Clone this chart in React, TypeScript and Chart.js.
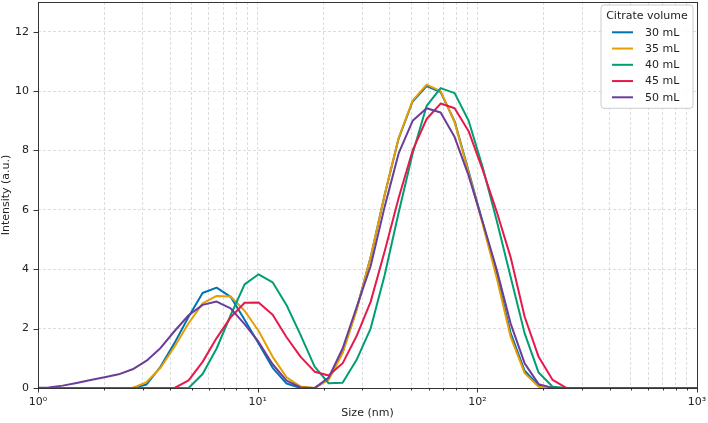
import React, { useEffect, useRef } from 'react';
import { Chart, registerables } from 'chart.js';

Chart.register(...registerables);

// Size classes (nm)
const SIZES = [
  0.8332, 0.9649, 1.117, 1.295, 1.499, 1.736, 2.01, 2.328, 2.696, 3.122,
  3.615, 4.187, 4.849, 5.615, 6.503, 7.531, 8.721, 10.1, 11.7, 13.54,
  15.69, 18.17, 21.04, 24.36, 28.21, 32.67, 37.84, 43.82, 50.75, 58.77,
  68.06, 78.82, 91.28, 105.7, 122.4, 141.8, 164.2, 190.1, 220.2, 255.0,
  295.3, 342.0, 396.1, 458.7, 531.2, 615.1, 712.4, 825.0, 955.4, 1106,
];

const VOL_30 = [
  0, 0, 0, 0, 0, 0, 0, 0, 0, 0.12,
  0.72, 1.52, 2.4, 3.2, 3.38, 3.07, 2.3, 1.5, 0.68, 0.15,
  0, 0, 0.3, 1.2, 2.65, 4.4, 6.5, 8.4, 9.65, 10.17,
  9.97, 8.98, 7.3, 5.58, 3.82, 1.85, 0.58, 0.08, 0, 0,
  0, 0, 0, 0, 0, 0, 0, 0, 0, 0,
];
const VOL_35 = [
  0, 0, 0, 0, 0, 0, 0, 0, 0, 0.2,
  0.68, 1.4, 2.18, 2.85, 3.1, 3.08, 2.6, 1.92, 1.05, 0.36,
  0.05, 0, 0.28, 1.18, 2.62, 4.4, 6.5, 8.42, 9.68, 10.22,
  10.0, 8.95, 7.25, 5.52, 3.72, 1.72, 0.5, 0.04, 0, 0,
  0, 0, 0, 0, 0, 0, 0, 0, 0, 0,
];
const VOL_40 = [
  0, 0, 0, 0, 0, 0, 0, 0, 0, 0,
  0, 0, 0, 0.47, 1.33, 2.45, 3.49, 3.83, 3.56, 2.79,
  1.78, 0.72, 0.16, 0.18, 0.95, 2.0, 3.8, 5.9, 7.9, 9.5,
  10.1, 9.93, 9.0, 7.44, 5.65, 3.74, 1.84, 0.52, 0.04, 0,
  0, 0, 0, 0, 0, 0, 0, 0, 0, 0,
];
const VOL_45 = [
  0, 0, 0, 0, 0, 0, 0, 0, 0, 0,
  0, 0, 0.26, 0.88, 1.68, 2.38, 2.87, 2.88, 2.47, 1.71,
  1.05, 0.55, 0.42, 0.83, 1.75, 2.9, 4.6, 6.4, 8.0, 9.06,
  9.58, 9.42, 8.65, 7.35, 5.95, 4.4, 2.4, 1.05, 0.27, 0,
  0, 0, 0, 0, 0, 0, 0, 0, 0, 0,
];
const VOL_50 = [
  0, 0, 0.02, 0.08, 0.17, 0.27, 0.36, 0.46, 0.63, 0.92,
  1.35, 1.92, 2.45, 2.8, 2.91, 2.68, 2.15, 1.55, 0.8, 0.25,
  0.02, 0, 0.35, 1.33, 2.72, 4.1, 6.1, 7.9, 9.0, 9.42,
  9.28, 8.45, 7.15, 5.6, 4.0, 2.17, 0.83, 0.13, 0, 0,
  0, 0, 0, 0, 0, 0, 0, 0, 0, 0,
];

const SERIES = [VOL_30, VOL_35, VOL_40, VOL_45, VOL_50];
const SERIES_LABELS = ['30 mL', '35 mL', '40 mL', '45 mL', '50 mL'];
const SERIES_COLORS = ['#0072B2', '#E69F00', '#009E73', '#E6194B', '#6A3D9A'];

const X_MAJOR_TICKS = [1, 10, 100, 1000];
const X_MAJOR_LABELS = ['10⁰', '10¹', '10²', '10³'];
const X_MINOR_TICKS = [
  2, 3, 4, 5, 6, 7, 8, 9,
  20, 30, 40, 50, 60, 70, 80, 90,
  200, 300, 400, 500, 600, 700, 800, 900,
];
const Y_TICKS = [0, 2, 4, 6, 8, 10, 12];

const FONT_FAMILY = '"DejaVu Sans", sans-serif';
const FONT_SIZE = 11;
const TEXT_COLOR = '#222222';
const GRID_COLOR = '#d4d4d4';

function isMajor(v: number) {
  return X_MAJOR_TICKS.some((m) => Math.abs(m - v) < 1e-6 * m);
}

const framePlugin = {
  id: 'mplFrame',
  afterDraw(chart: any) {
    const { ctx, chartArea: a, scales } = chart;
    ctx.save();
    ctx.strokeStyle = '#222222';
    ctx.lineWidth = 0.9;
    ctx.setLineDash([]);
    // y tick marks
    scales.y.ticks.forEach((t: any) => {
      const p = Math.round(scales.y.getPixelForValue(t.value)) + 0.5;
      ctx.beginPath();
      ctx.moveTo(a.left - 4.5, p);
      ctx.lineTo(a.left, p);
      ctx.stroke();
    });
    // x tick marks
    scales.x.ticks.forEach((t: any) => {
      const len = isMajor(t.value) ? 4.5 : 2.5;
      const p = Math.round(scales.x.getPixelForValue(t.value)) + 0.5;
      ctx.beginPath();
      ctx.moveTo(p, a.bottom);
      ctx.lineTo(p, a.bottom + len);
      ctx.stroke();
    });
    // frame
    ctx.strokeRect(
      Math.round(a.left) + 0.5,
      Math.round(a.top) + 0.5,
      Math.round(a.right) - Math.round(a.left),
      Math.round(a.bottom) - Math.round(a.top)
    );

    // legend (top-right inside the axes)
    const boxRight = a.right - 4;
    const boxTop = a.top + 3;
    const boxW = 92;
    const rowH = 16.25;
    const n = chart.data.datasets.length;
    const firstRow = 27.3;
    const boxH = firstRow + (n - 1) * rowH + 11;
    const boxLeft = boxRight - boxW;
    ctx.beginPath();
    const r = 3;
    ctx.moveTo(boxLeft + r, boxTop);
    ctx.lineTo(boxRight - r, boxTop);
    ctx.quadraticCurveTo(boxRight, boxTop, boxRight, boxTop + r);
    ctx.lineTo(boxRight, boxTop + boxH - r);
    ctx.quadraticCurveTo(boxRight, boxTop + boxH, boxRight - r, boxTop + boxH);
    ctx.lineTo(boxLeft + r, boxTop + boxH);
    ctx.quadraticCurveTo(boxLeft, boxTop + boxH, boxLeft, boxTop + boxH - r);
    ctx.lineTo(boxLeft, boxTop + r);
    ctx.quadraticCurveTo(boxLeft, boxTop, boxLeft + r, boxTop);
    ctx.closePath();
    ctx.fillStyle = 'rgba(255,255,255,0.85)';
    ctx.fill();
    ctx.strokeStyle = '#cccccc';
    ctx.lineWidth = 1;
    ctx.stroke();

    ctx.font = `${FONT_SIZE}px ${FONT_FAMILY}`;
    ctx.fillStyle = TEXT_COLOR;
    ctx.textBaseline = 'middle';
    ctx.textAlign = 'center';
    ctx.fillText('Citrate volume', boxLeft + boxW / 2, boxTop + 11);
    ctx.textAlign = 'left';
    chart.data.datasets.forEach((ds: any, i: number) => {
      const y = boxTop + firstRow + i * rowH;
      ctx.strokeStyle = ds.borderColor;
      ctx.lineWidth = 2;
      ctx.beginPath();
      ctx.moveTo(boxLeft + 11, y);
      ctx.lineTo(boxLeft + 32, y);
      ctx.stroke();
      ctx.fillStyle = TEXT_COLOR;
      ctx.fillText(ds.label, boxLeft + 44, y + 0.5);
    });
    ctx.restore();
  },
};

export default function App() {
  const canvasRef = useRef<HTMLCanvasElement | null>(null);

  useEffect(() => {
    const canvas = canvasRef.current;
    if (!canvas) return;
    const font = { family: FONT_FAMILY, size: FONT_SIZE };
    const chart = new Chart(canvas, {
      type: 'line',
      data: {
        datasets: SERIES.map((vals, i) => ({
          label: SERIES_LABELS[i],
          data: SIZES.map((s, j) => ({ x: s, y: vals[j] })),
          borderColor: SERIES_COLORS[i],
          backgroundColor: SERIES_COLORS[i],
          borderWidth: 2,
          pointRadius: 0,
          tension: 0,
          fill: false,
          borderJoinStyle: 'round',
          borderCapStyle: 'round',
          order: SERIES.length - i,
        })),
      },
      options: {
        responsive: false,
        animation: false,
        devicePixelRatio: 1,
        layout: { padding: { top: 2, right: 11, left: 0, bottom: 0 } },
        plugins: {
          legend: { display: false },
          tooltip: { enabled: false },
        },
        scales: {
          x: {
            type: 'logarithmic',
            min: 1,
            max: 1000,
            afterBuildTicks: (s: any) => {
              s.ticks = [...X_MAJOR_TICKS, ...X_MINOR_TICKS]
                .sort((p, q) => p - q)
                .map((v) => ({ value: v, major: isMajor(v) }));
            },
            afterFit: (s: any) => {
              s.height = 35;
              s.paddingLeft = 0;
              s.paddingRight = 0;
            },
            ticks: {
              autoSkip: false,
              maxRotation: 0,
              minRotation: 0,
              padding: 3,
              color: TEXT_COLOR,
              font,
              callback: (v: any) => {
                const idx = X_MAJOR_TICKS.findIndex((m) => Math.abs(m - Number(v)) < 1e-6 * m);
                return idx >= 0 ? X_MAJOR_LABELS[idx] : '';
              },
            },
            grid: {
              color: GRID_COLOR,
              lineWidth: 0.8,
              drawTicks: true,
              tickLength: 5,
              tickColor: 'rgba(0,0,0,0)',
            },
            border: { display: false, dash: [3, 2] },
            title: {
              display: true,
              text: 'Size (nm)',
              color: TEXT_COLOR,
              font,
              padding: { top: 0, bottom: 3 },
            },
          },
          y: {
            type: 'linear',
            min: 0,
            max: 13,
            afterBuildTicks: (s: any) => {
              s.ticks = Y_TICKS.map((v) => ({ value: v }));
            },
            afterFit: (s: any) => {
              s.width = 38;
              s.paddingTop = 0;
              s.paddingBottom = 0;
            },
            ticks: {
              padding: 4,
              color: TEXT_COLOR,
              font,
              callback: (v: any) => String(v),
            },
            grid: {
              color: GRID_COLOR,
              lineWidth: 0.8,
              drawTicks: true,
              tickLength: 5,
              tickColor: 'rgba(0,0,0,0)',
            },
            border: { display: false, dash: [3, 2] },
            title: {
              display: true,
              text: 'Intensity (a.u.)',
              color: TEXT_COLOR,
              font,
              padding: { top: 0, bottom: 0 },
            },
          },
        },
      } as any,
      plugins: [framePlugin],
    });
    return () => chart.destroy();
  }, []);

  return (
    <div style={{ position: 'fixed', left: 0, top: 0, width: 708, height: 423, background: '#ffffff' }}>
      <canvas ref={canvasRef} width={708} height={423} style={{ display: 'block' }} />
    </div>
  );
}
